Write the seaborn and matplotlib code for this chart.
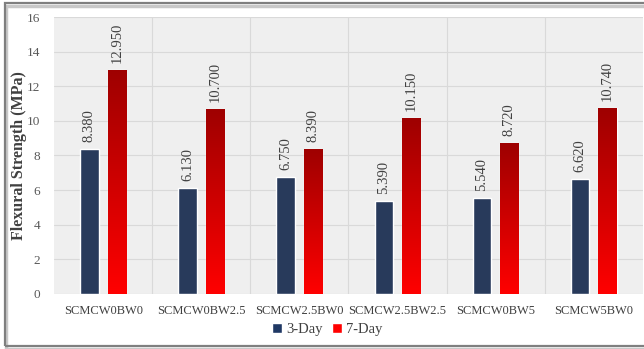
import numpy as np
import pandas as pd
import matplotlib
matplotlib.use("Agg")
import matplotlib.pyplot as plt
from matplotlib.patches import Rectangle, Patch
from matplotlib.colors import LinearSegmentedColormap
import seaborn as sns

mixes = ["SCMCW0BW0", "SCMCW0BW2.5", "SCMCW2.5BW0", "SCMCW2.5BW2.5", "SCMCW0BW5", "SCMCW5BW0"]
day3 = [8.380, 6.130, 6.750, 5.390, 5.540, 6.620]
day7 = [12.950, 10.700, 8.390, 10.150, 8.720, 10.740]
ages = ["3-Day", "7-Day"]
y_ticks = [0, 2, 4, 6, 8, 10, 12, 14, 16]

df = pd.DataFrame({
    "Mix": mixes * 2,
    "Age": [ages[0]] * len(mixes) + [ages[1]] * len(mixes),
    "Strength": day3 + day7,
})

sns.set_theme(style="white")
plt.rcParams["font.family"] = ["Liberation Serif", "DejaVu Serif"]

navy = "#1F3864"
red = "#FF0000"

fig = plt.figure(figsize=(6.44, 3.49), dpi=100)
ax = fig.add_axes([0.084, 0.158, 0.914, 0.793])
ax.set_facecolor("#EFEFEF")

sns.barplot(data=df, x="Mix", y="Strength", hue="Age", palette=[navy, red],
            width=0.56, gap=0.33, ax=ax, legend=False, zorder=3)

ax.set_ylim(0, 16)
ax.set_xlim(-0.5, len(mixes) - 0.5)
ax.set_yticks(y_ticks)
ax.set_yticklabels([str(t) for t in y_ticks], color="#595959", fontsize=9.5)
ax.tick_params(axis="x", colors="#404040", labelsize=9, length=0, pad=8)
ax.tick_params(axis="y", length=0, pad=10)

# grid: horizontal at ticks, vertical between categories
for t in y_ticks:
    ax.axhline(t, color="#D9D9D9", lw=0.8, zorder=1)
for b in np.arange(0.5, len(mixes) - 0.5, 1):
    ax.axvline(b, color="#D9D9D9", lw=0.8, zorder=1)
for s in ax.spines.values():
    s.set_visible(False)

ax.set_xlabel("")
ax.set_ylabel("Flexural Strength (MPa)", fontsize=11.5, fontweight="bold", color="#404040")
ax.yaxis.set_label_coords(-0.046, 0.5)

# vertical gradient on the 7-day bars: dark red on top, bright red at the base
grad_cmap = LinearSegmentedColormap.from_list("redgrad", ["#FF0000", "#9E0000"])
grad = np.linspace(0, 1, 256).reshape(-1, 1)
for bar in ax.containers[1].patches:
    x0, y0 = bar.get_x(), bar.get_y()
    w, h = bar.get_width(), bar.get_height()
    im = ax.imshow(grad, cmap=grad_cmap, origin="lower", aspect="auto",
                   extent=[x0, x0 + w, y0, y0 + h], zorder=3)
    im.set_clip_path(bar)
    bar.set_facecolor("none")
ax.set_xlim(-0.5, len(mixes) - 0.5)
ax.set_ylim(0, 16)

for cont in ax.containers:
    ax.bar_label(cont, labels=[f"{v:.3f}" for v in cont.datavalues], rotation=90,
                 padding=5, fontsize=10.5, color="#404040")

handles = [Patch(facecolor=navy, label=ages[0]), Patch(facecolor=red, label=ages[1])]
fig.legend(handles=handles, loc="center", bbox_to_anchor=(0.508, 0.055), ncol=2,
           frameon=False, fontsize=10.5, handlelength=0.7, handleheight=0.7,
           handletextpad=0.3, columnspacing=0.6, labelcolor="#404040")

# outer frame with a soft shadow along the bottom
fig.patches.append(Rectangle((0.009, 0.0), 1.0, 0.982, transform=fig.transFigure,
                             facecolor="none", edgecolor="#C8C8C8", lw=2.5, zorder=0))
fig.patches.append(Rectangle((0.007, 0.009), 1.0, 0.982, transform=fig.transFigure,
                             facecolor="none", edgecolor="#7F7F7F", lw=1.6, zorder=1))

fig.savefig("out.png", dpi=100)
